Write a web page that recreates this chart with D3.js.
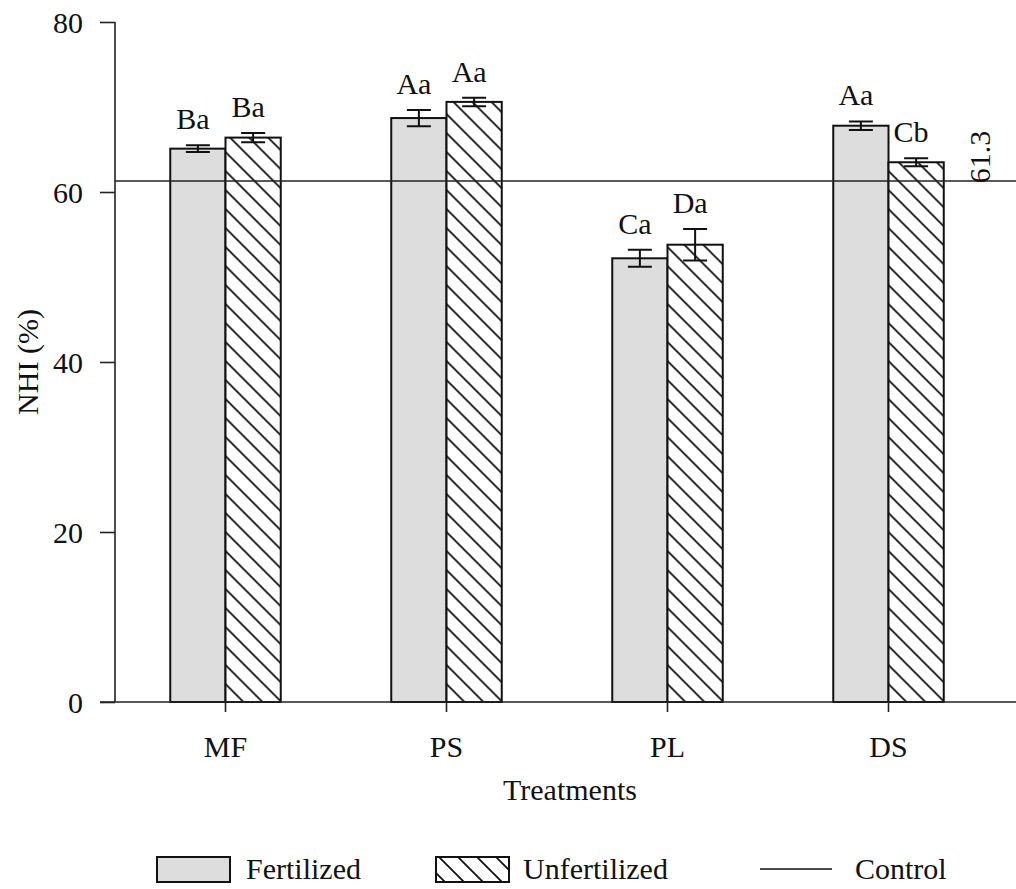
<!DOCTYPE html>
<meta charset="utf-8">
<style>
body { margin: 0; background: #fff; }
svg text { font-family: 'Liberation Serif', 'Times New Roman', serif !important; font-size: 30px; fill: #111; }
.axis path, .axis line { stroke: #222; stroke-width: 1.6; }
</style>
<body>
<svg width="1016" height="889"></svg>
<script src="https://cdn.jsdelivr.net/npm/d3@7"></script>
<script>

var categories = ["MF", "PS", "PL", "DS"];
var series = ["Fertilized", "Unfertilized"];
var fertilized = [65.1, 68.7, 52.2, 67.8];
var unfertilized = [66.4, 70.6, 53.8, 63.5];
var fertErr = [0.4, 0.95, 1.0, 0.5];
var unfertErr = [0.55, 0.5, 1.85, 0.47];
var fertLetters = ["Ba", "Aa", "Ca", "Aa"];
var unfertLetters = ["Ba", "Aa", "Da", "Cb"];
var controlValue = 61.3;
var yTicks = [0, 20, 40, 60, 80];

var svg = d3.select("svg"),
    width = +svg.attr("width"),
    height = +svg.attr("height");

var x0 = 115, x1 = 999;
var y = d3.scaleLinear().domain([0, 80]).range([702, 22]);
var x = d3.scaleBand().domain(categories).range([x0, x1])
    .paddingInner(0.5).paddingOuter(0.25);
var xs = d3.scaleBand().domain(series).range([0, x.bandwidth()]);

// hatch pattern
var defs = svg.append("defs");
var pat = defs.append("pattern")
    .attr("id", "hatch")
    .attr("patternUnits", "userSpaceOnUse")
    .attr("width", 19).attr("height", 19);
pat.append("rect").attr("width", 19).attr("height", 19).attr("fill", "#fff");
pat.append("path")
    .attr("d", "M-5,-5 L24,24 M-5,14 L5,24 M14,-5 L24,5")
    .attr("stroke", "#111").attr("stroke-width", 1.8);

var rows = [];
categories.forEach(function(c, i) {
  rows.push({cat: c, s: "Fertilized", v: fertilized[i], e: fertErr[i], l: fertLetters[i]});
  rows.push({cat: c, s: "Unfertilized", v: unfertilized[i], e: unfertErr[i], l: unfertLetters[i]});
});

// y axis
svg.append("g")
    .attr("class", "axis")
    .attr("transform", "translate(" + x0 + ",0)")
    .call(d3.axisLeft(y).tickValues(yTicks).tickSize(15).tickPadding(17))
    .call(function(g) { g.select(".domain").attr("d", "M0," + y(80) + "V" + y(0)); })
    .selectAll("text").attr("dy", "0.35em");

// bars
var bars = svg.append("g").selectAll("g")
    .data(rows).enter().append("g")
    .attr("transform", function(d) { return "translate(" + (x(d.cat) + xs(d.s)) + ",0)"; });

bars.append("rect")
    .attr("y", function(d) { return y(d.v); })
    .attr("width", xs.bandwidth())
    .attr("height", function(d) { return y(0) - y(d.v); })
    .attr("fill", function(d) { return d.s === "Fertilized" ? "#dddddd" : "url(#hatch)"; })
    .attr("stroke", "#111")
    .attr("stroke-width", 2);

// error bars
var cx = xs.bandwidth() / 2;
bars.append("path")
    .attr("d", function(d) {
      var t = y(d.v + d.e), b = y(d.v - d.e);
      return "M" + cx + "," + t + "V" + b +
             "M" + (cx - 12) + "," + t + "H" + (cx + 12) +
             "M" + (cx - 12) + "," + b + "H" + (cx + 12);
    })
    .attr("stroke", "#111").attr("stroke-width", 2).attr("fill", "none");

bars.append("text")
    .attr("x", cx - 5)
    .attr("y", function(d) { return y(d.v + d.e) - 16; })
    .attr("text-anchor", "middle")
    .text(function(d) { return d.l; });

// x axis
var xAxis = svg.append("g")
    .attr("class", "axis")
    .attr("transform", "translate(0," + y(0) + ")")
    .call(d3.axisBottom(x).tickSize(10).tickPadding(24));
xAxis.select(".domain").attr("d", "M100,0H" + width);
xAxis.selectAll(".tick").attr("transform", function(d) {
  return "translate(" + (x(d) + x.bandwidth() / 2) + ",0)";
});

// control line
svg.append("line")
    .attr("x1", x0).attr("x2", width)
    .attr("y1", y(controlValue)).attr("y2", y(controlValue))
    .attr("stroke", "#222").attr("stroke-width", 1.6);

svg.append("text")
    .attr("transform", "translate(990," + 157 + ") rotate(-90)")
    .attr("text-anchor", "middle")
    .text(controlValue.toFixed(1));

// axis titles
svg.append("text")
    .attr("transform", "translate(38,362) rotate(-90)")
    .attr("text-anchor", "middle")
    .text("NHI (%)");

svg.append("text")
    .attr("x", 570)
    .attr("y", 800)
    .attr("text-anchor", "middle")
    .text("Treatments");

// legend
var lg = svg.append("g");
lg.append("rect").attr("x", 157).attr("y", 857).attr("width", 73).attr("height", 25)
    .attr("fill", "#dddddd").attr("stroke", "#111").attr("stroke-width", 2);
lg.append("text").attr("x", 246).attr("y", 879).text("Fertilized");
lg.append("rect").attr("x", 436).attr("y", 857).attr("width", 73).attr("height", 25)
    .attr("fill", "url(#hatch)").attr("stroke", "#111").attr("stroke-width", 2);
lg.append("text").attr("x", 523).attr("y", 879).text("Unfertilized");
lg.append("line").attr("x1", 760).attr("x2", 832).attr("y1", 869).attr("y2", 869)
    .attr("stroke", "#111").attr("stroke-width", 1.6);
lg.append("text").attr("x", 855).attr("y", 879).text("Control");

</script>
</body>
</html>
